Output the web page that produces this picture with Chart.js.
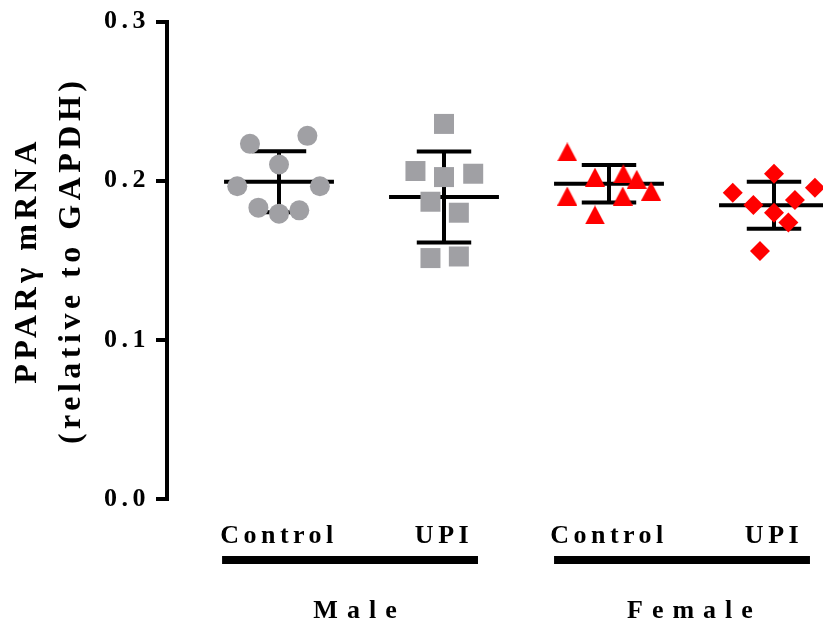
<!DOCTYPE html>
<html><head><meta charset="utf-8">
<script src="https://cdn.jsdelivr.net/npm/chart.js@4.4.1/dist/chart.umd.min.js"></script>
<style>html,body{margin:0;padding:0;background:#fff;} canvas{display:block;}</style>
</head><body>
<canvas id="c" width="823" height="625"></canvas>
<script>
// ---------------- data ----------------
const groupLabels = ['Control', 'UPI', 'Control', 'UPI'];
const sexLabels = ['Male', 'Female'];
const yTicks = [0.0, 0.1, 0.2, 0.3];
const maleControl   = [0.2232, 0.2282, 0.2102, 0.1965, 0.1965, 0.1831, 0.1793, 0.1814];
const maleUPI       = [0.2357, 0.2061, 0.2023, 0.2044, 0.1868, 0.1799, 0.1514, 0.1524];
const femaleControl = [0.2181, 0.2023, 0.2044, 0.2009, 0.1904, 0.1904, 0.1935, 0.1785];
const femaleUPI     = [0.2044, 0.1925, 0.1956, 0.1848, 0.1879, 0.1799, 0.1737, 0.1559];
const groupMeans = [0.1994, 0.1898, 0.1981, 0.1846];
const groupSD    = [0.0192, 0.0286, 0.0118, 0.0148];

// ---------------- layout (horizontal scatter offsets, category units) ----------------
const jitter = [
  [-0.176, 0.172, 0, -0.253, 0.248, -0.125, 0, 0.123],
  [0, -0.173, 0, 0.177, -0.082, 0.09, -0.082, 0.09],
  [-0.253, -0.085, 0.087, 0.168, -0.253, 0.083, 0.255, -0.085],
  [0, -0.25, 0.248, -0.125, 0.127, 0, 0.087, -0.085]
];

const FONT = '"Liberation Serif", "Times New Roman", serif';
const GRAY = '#A0A0A4';
const RED = '#FF0000';

function triangleImg(color) {
  const c = document.createElement('canvas');
  c.width = 20; c.height = 19;
  const g = c.getContext('2d');
  g.fillStyle = color;
  g.beginPath(); g.moveTo(10, 0); g.lineTo(20, 19); g.lineTo(0, 19); g.closePath(); g.fill();
  return c;
}

const groups = [maleControl, maleUPI, femaleControl, femaleUPI];
const pts = groups.map((vals, gi) => vals.map((v, i) => ({ x: gi + 1 + jitter[gi][i], y: v })));

const styles = [
  { pointStyle: 'circle', pointRadius: 10, color: GRAY },
  { pointStyle: 'rect', pointRadius: 14.14, color: GRAY },
  { pointStyle: triangleImg(RED), pointRadius: 10, color: RED },
  { pointStyle: 'rectRot', pointRadius: 10, color: RED }
];

const datasets = pts.map((d, i) => ({
  label: groupLabels[i],
  data: d,
  pointStyle: styles[i].pointStyle,
  pointRadius: styles[i].pointRadius,
  pointHoverRadius: styles[i].pointRadius,
  backgroundColor: styles[i].color,
  borderColor: styles[i].color,
  borderWidth: 0,
  showLine: false,
  clip: false
}));

const spacingPlugin = {
  id: 'spacing',
  beforeDraw(chart) { chart.ctx.letterSpacing = '4.5px'; }
};

const errorBars = {
  id: 'errorBars',
  beforeDatasetsDraw(chart) {
    const { ctx, scales: { x, y } } = chart;
    ctx.save();
    ctx.strokeStyle = '#000';
    ctx.lineWidth = 4;
    ctx.lineCap = 'butt';
    groupMeans.forEach((m, i) => {
      const c = i + 1;
      const sd = groupSD[i];
      const yM = y.getPixelForValue(m), yT = y.getPixelForValue(m + sd), yB = y.getPixelForValue(m - sd);
      ctx.beginPath();
      ctx.moveTo(x.getPixelForValue(c - 0.333), yM); ctx.lineTo(x.getPixelForValue(c + 0.333), yM);
      ctx.moveTo(x.getPixelForValue(c), yT); ctx.lineTo(x.getPixelForValue(c), yB);
      ctx.moveTo(x.getPixelForValue(c - 0.165), yT); ctx.lineTo(x.getPixelForValue(c + 0.165), yT);
      ctx.moveTo(x.getPixelForValue(c - 0.165), yB); ctx.lineTo(x.getPixelForValue(c + 0.165), yB);
      ctx.stroke();
    });
    ctx.restore();
  }
};

const sexGroups = {
  id: 'sexGroups',
  afterDraw(chart) {
    const { ctx, chartArea, scales: { x } } = chart;
    const spans = [[0.655, 2.206], [2.667, 4.218]];
    const centers = [1.488, 3.518];
    ctx.save();
    ctx.fillStyle = '#000';
    spans.forEach(([a, b]) => {
      const x1 = x.getPixelForValue(a), x2 = x.getPixelForValue(b);
      ctx.fillRect(x1, chartArea.bottom + 57, x2 - x1, 8);
    });
    ctx.font = 'bold 26px ' + FONT;
    ctx.letterSpacing = '9px';
    ctx.textAlign = 'center';
    ctx.textBaseline = 'middle';
    sexLabels.forEach((t, i) => ctx.fillText(t, x.getPixelForValue(centers[i]), chartArea.bottom + 112));
    ctx.restore();
  }
};

new Chart(document.getElementById('c'), {
  type: 'scatter',
  data: { datasets },
  options: {
    responsive: false,
    animation: false,
    layout: { autoPadding: false, padding: { top: 20, right: 0, bottom: 0, left: 0 } },
    plugins: { legend: { display: false }, tooltip: { enabled: false } },
    scales: {
      x: {
        type: 'linear', min: 0.3212, max: 4.297,
        afterBuildTicks: s => { s.ticks = [1, 2, 3, 4].map(v => ({ value: v })); },
        afterFit: s => { s.height = 126; s.paddingLeft = 0; s.paddingRight = 0; },
        grid: { display: false },
        border: { display: false },
        ticks: {
          autoSkip: false, maxRotation: 0, minRotation: 0, padding: 14,
          color: '#000', font: { family: FONT, size: 26, weight: 'bold' },
          callback: v => groupLabels[Math.round(v) - 1]
        }
      },
      y: {
        min: 0, max: 0.3,
        afterBuildTicks: s => { s.ticks = yTicks.map(v => ({ value: v })); },
        afterFit: s => { s.width = 167; },
        grid: { drawOnChartArea: false, drawTicks: true, tickLength: 11, lineWidth: 4, color: '#000' },
        border: { display: true, width: 4, color: '#000' },
        ticks: {
          padding: 6, color: '#000',
          font: { family: FONT, size: 26, weight: 'bold' },
          callback: v => Number(v).toFixed(1)
        },
        title: {
          display: true,
          text: ['PPARγ mRNA', '(relative to GAPDH)'],
          color: '#000',
          font: { family: FONT, size: 32, weight: 'bold', lineHeight: 1.4 },
          padding: { top: 5, bottom: 0 }
        }
      }
    }
  },
  plugins: [spacingPlugin, errorBars, sexGroups]
});
</script>
</body></html>
